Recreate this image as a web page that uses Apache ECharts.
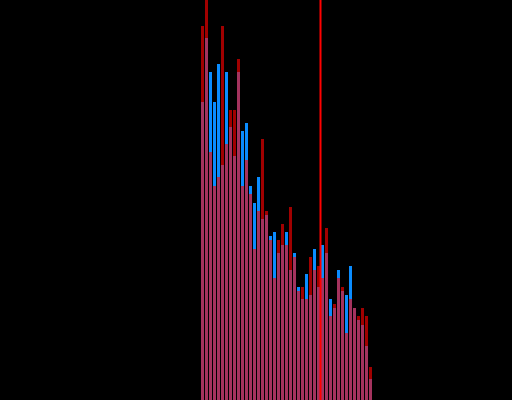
<!DOCTYPE html>
<html>
<head>
<meta charset="utf-8">
<script src="https://cdn.jsdelivr.net/npm/echarts@6/dist/echarts.min.js"></script>
<style>
  html, body { margin: 0; padding: 0; background: #000; }
  #chart { width: 512px; height: 400px; }
</style>
</head>
<body>
<div id="chart"></div>
<script>
  // bin heights (axis runs 0..400)
  var redValues = [374, 400, 248, 214, 223, 374, 256, 290, 290, 341,
    214, 240, 206, 151, 189, 261, 189, 160, 122, 160,
    176, 155, 193, 143, 109, 113, 101, 143, 130, 134,
    122, 172, 84, 96, 122, 113, 67, 101, 92, 84,
    92, 84, 33];
  var blueValues = [298, 362, 328, 298, 336, 235, 328, 273, 244, 328,
    269, 277, 214, 197, 223, 181, 185, 164, 168, 147,
    155, 168, 130, 147, 113, 101, 126, 105, 151, 113,
    155, 147, 101, 92, 130, 109, 105, 134, 92, 80,
    75, 54, 21];
  var bins = redValues.map(function (v, i) { return String(i + 1); });
  var yMax = 400;
  var markerPos = 30;

  var myChart = echarts.init(document.getElementById('chart'));
  myChart.setOption({
    backgroundColor: '#000000',
    animation: false,
    grid: {
      left: 200.5,
      width: 172,
      top: 0,
      bottom: 0
    },
    xAxis: [
      {
        type: 'category',
        data: bins,
        show: false
      },
      {
        type: 'value',
        min: 0,
        max: bins.length,
        show: false
      }
    ],
    yAxis: {
      type: 'value',
      min: 0,
      max: yMax,
      show: false
    },
    series: [
      {
        name: 'blue',
        type: 'bar',
        barWidth: 3,
        barGap: '-100%',
        itemStyle: { color: '#0a8cff' },
        data: blueValues
      },
      {
        name: 'red',
        type: 'bar',
        barWidth: 3,
        barGap: '-100%',
        itemStyle: { color: '#ff0000', opacity: 0.63 },
        data: redValues
      },
      {
        name: 'marker',
        type: 'line',
        xAxisIndex: 1,
        symbol: 'none',
        silent: true,
        z: 10,
        lineStyle: { color: '#ff0000', width: 2, opacity: 1 },
        data: [[markerPos, 0], [markerPos, yMax]]
      }
    ]
  });
</script>
</body>
</html>
